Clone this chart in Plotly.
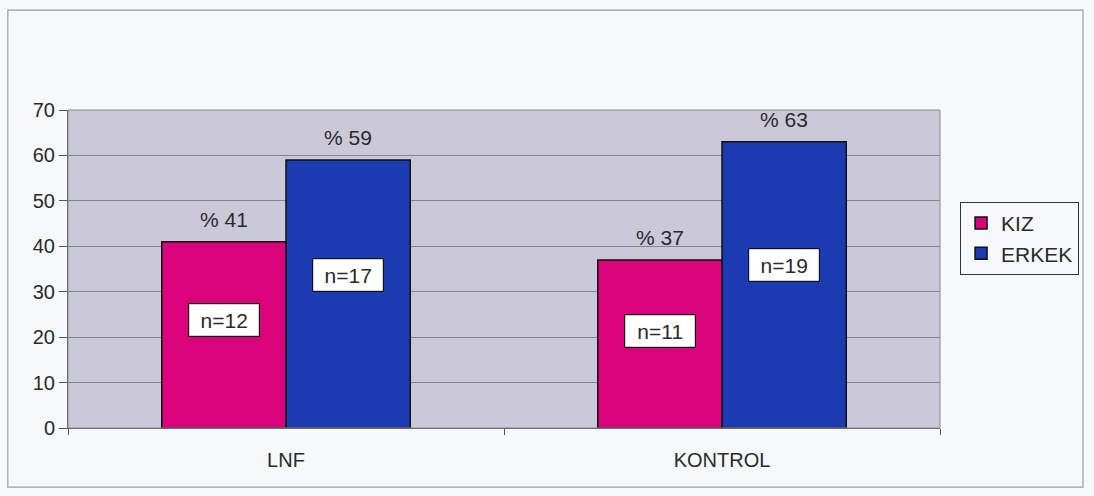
import plotly.graph_objects as go

# Data
categories = ["LNF", "KONTROL"]
kiz_pct = [41, 37]
erkek_pct = [59, 63]
kiz_n = [12, 11]
erkek_n = [17, 19]
y_ticks = [0, 10, 20, 30, 40, 50, 60, 70]

KIZ_COLOR = "#d9047c"
ERKEK_COLOR = "#1b3bb3"
TEXT_COLOR = "#2a2a2a"
FONT = "Liberation Sans, Arial, sans-serif"

fig = go.Figure()
fig.add_trace(go.Bar(
    name="KIZ", x=categories, y=kiz_pct,
    marker=dict(color=KIZ_COLOR, line=dict(color="#111111", width=1.5)),
))
fig.add_trace(go.Bar(
    name="ERKEK", x=categories, y=erkek_pct,
    marker=dict(color=ERKEK_COLOR, line=dict(color="#111111", width=1.5)),
))

# Percentage labels above bars and sample-size boxes inside bars
half = 62
for series, pcts, ns, shift, box_frac in (
    ("KIZ", kiz_pct, kiz_n, -half, 0.58),
    ("ERKEK", erkek_pct, erkek_n, half, 0.57),
):
    for cat, p, n in zip(categories, pcts, ns):
        fig.add_annotation(
            x=cat, y=p, xshift=shift, yshift=22, showarrow=False,
            text=f"% {p}", font=dict(family=FONT, size=21, color=TEXT_COLOR),
        )
        fig.add_annotation(
            x=cat, y=p * box_frac, xshift=shift, showarrow=False,
            text=f"n={n}", font=dict(family=FONT, size=21, color=TEXT_COLOR),
            width=62, height=24, align="center",
            bgcolor="white", bordercolor="#111111", borderwidth=1.2, borderpad=4,
        )

# Outer chart frame
fig.add_shape(
    type="rect", xref="paper", yref="paper",
    x0=-0.069, x1=1.164, y0=-0.186, y1=1.314,
    line=dict(color="#9a9ea2", width=1.2), fillcolor="rgba(0,0,0,0)", layer="below",
)

fig.update_layout(
    width=1094, height=496,
    margin=dict(l=68, r=154, t=110, b=68),
    paper_bgcolor="#f5f9fb",
    plot_bgcolor="#cbc8d8",
    barmode="group",
    bargap=0.43, bargroupgap=0,
    font=dict(family=FONT, size=21, color=TEXT_COLOR),
    showlegend=True,
    legend=dict(
        x=1.023, y=0.711, xanchor="left", yanchor="top",
        bgcolor="#f5f9fb", bordercolor="#333333", borderwidth=1,
        font=dict(family=FONT, size=21, color=TEXT_COLOR),
        itemwidth=30, tracegroupgap=0,
    ),
    xaxis=dict(
        showgrid=False, showline=True, linecolor="#555555", linewidth=1,
        ticks="outside", tickson="boundaries", ticklen=6, tickcolor="#555555",
        ticklabelstandoff=14,
        tickfont=dict(family=FONT, size=20, color=TEXT_COLOR),
    ),
    yaxis=dict(
        range=[0, 70], tickvals=y_ticks, showgrid=True,
        gridcolor="#85838e", gridwidth=1,
        showline=True, linecolor="#555555", linewidth=1,
        ticks="outside", ticklen=8, tickcolor="#555555",
        tickfont=dict(family=FONT, size=20, color=TEXT_COLOR),
        zeroline=False,
    ),
)

# Plot area border (top and right)
fig.add_shape(
    type="rect", xref="paper", yref="paper", x0=0, x1=1, y0=0, y1=1,
    line=dict(color="#8a8890", width=1), fillcolor="rgba(0,0,0,0)",
)

fig.write_html("out.html")
